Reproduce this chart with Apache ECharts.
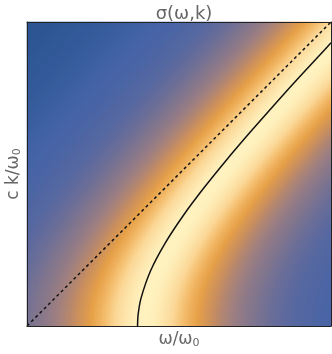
<!DOCTYPE html>
<html>
<head>
<meta charset="utf-8">
<script src="https://cdn.jsdelivr.net/npm/echarts@6/dist/echarts.min.js"></script>
<style>
  html, body { margin: 0; padding: 0; background: #fff; }
  #chart { width: 332px; height: 354px; }
</style>
</head>
<body>
<div id="chart"></div>
<script>
// axis range, in units of omega0 (both axes)
var axisMax = 2.75;
var cells = 152;

// sigma(omega,k): band along omega = sqrt(omega0^2 + c^2 k^2)
var omega0 = 1.0;
var bandShift = 0.06;   // peak sits a bit right of the dispersion curve
var bandWidth = 0.44;

// dispersion curve (k, omega)
var curveK = [0, 0.1, 0.25, 0.5, 0.75, 1.0, 1.25, 1.5, 1.75, 2.0, 2.25, 2.5, 2.562];
var curveW = [1.0, 1.005, 1.031, 1.118, 1.25, 1.414, 1.601, 1.803, 2.016, 2.236, 2.462, 2.693, 2.75];

// light line omega = c k
var lightK = [0, 2.75];
var lightW = [0, 2.75];

// colour gradient stops, low -> high
var stopPos = [0, 0.03, 0.08, 0.14, 0.22, 0.32, 0.44, 0.58, 0.74, 1.0];
var stopCol = ['#2b5590', '#4363a7', '#5a69a0', '#7d7490', '#a08080', '#c88e60', '#e6a048', '#f3bb6a', '#fbd898', '#fff2c0'];

function hexRgb(h) {
    return [parseInt(h.substr(1, 2), 16), parseInt(h.substr(3, 2), 16), parseInt(h.substr(5, 2), 16)];
}
function buildGradient(n) {
    var out = [];
    for (var i = 0; i < n; i++) {
        var t = i / (n - 1);
        var s = 0;
        while (s < stopPos.length - 2 && t > stopPos[s + 1]) s++;
        var f = (t - stopPos[s]) / (stopPos[s + 1] - stopPos[s]);
        var a = hexRgb(stopCol[s]), b = hexRgb(stopCol[s + 1]);
        var c = [0, 1, 2].map(function (q) { return Math.round(a[q] + (b[q] - a[q]) * f); });
        out.push('rgb(' + c.join(',') + ')');
    }
    return out;
}

var xCats = [], yCats = [], cellData = [];
var vMin = Infinity, vMax = -Infinity;
for (var i = 0; i < cells; i++) {
    xCats.push(i);
    yCats.push(i);
}
for (var j = 0; j < cells; j++) {
    var k = (j + 0.5) * axisMax / cells;
    var wk = Math.sqrt(omega0 * omega0 + k * k) + bandShift;
    for (var i = 0; i < cells; i++) {
        var w = (i + 0.5) * axisMax / cells;
        var d = (w - wk) / bandWidth;
        var s = 1 / (1 + d * d);
        if (s < vMin) vMin = s;
        if (s > vMax) vMax = s;
        cellData.push([i, j, s]);
    }
}

function pairs(xs, ys) {
    var out = [];
    for (var i = 0; i < xs.length; i++) out.push([xs[i], ys[i]]);
    return out;
}

var labelColor = '#666';
var fontFam = '"DejaVu Sans", "Noto Sans", sans-serif';
var frameAxis = {
    axisLine: { show: true, onZero: false, lineStyle: { color: '#222', width: 1 } },
    axisTick: { show: false }, axisLabel: { show: false }, splitLine: { show: false }
};
var nameRich = {
    a: { color: labelColor, fontSize: 17, fontFamily: fontFam },
    s: { color: labelColor, fontSize: 11, fontFamily: fontFam, verticalAlign: 'bottom', padding: [8, 0, 0, 0] }
};

var option = {
    animation: false,
    title: {
        text: 'σ(ω,k)',
        left: 179,
        top: 0,
        textAlign: 'center',
        textStyle: { color: labelColor, fontSize: 18, fontWeight: 'normal', fontFamily: fontFam }
    },
    grid: [
        { left: 27, top: 22, right: 1, bottom: 28, outerBoundsMode: 'none', containLabel: false },
        { left: 27, top: 22, right: 1, bottom: 28, outerBoundsMode: 'none', containLabel: false }
    ],
    visualMap: {
        show: false,
        seriesIndex: 0,
        min: vMin,
        max: vMax,
        inRange: { color: buildGradient(101) }
    },
    xAxis: [
        { type: 'category', gridIndex: 0, data: xCats, show: false },
        Object.assign({
            type: 'value', gridIndex: 1, min: 0, max: axisMax, z: 10,
            name: '{a|ω/ω}{s|0}', nameLocation: 'middle', nameGap: 4,
            nameTextStyle: { rich: nameRich }
        }, frameAxis),
        Object.assign({
            type: 'value', gridIndex: 1, position: 'top', min: 0, max: axisMax, z: 10
        }, frameAxis)
    ],
    yAxis: [
        { type: 'category', gridIndex: 0, data: yCats, show: false },
        Object.assign({
            type: 'value', gridIndex: 1, min: 0, max: axisMax, z: 10,
            name: '{a|c k/ω}{s|0}', nameLocation: 'middle', nameGap: 4,
            nameTextStyle: { rich: nameRich }
        }, frameAxis),
        Object.assign({
            type: 'value', gridIndex: 1, position: 'right', min: 0, max: axisMax, z: 10
        }, frameAxis)
    ],
    series: [
        {
            type: 'heatmap',
            xAxisIndex: 0,
            yAxisIndex: 0,
            data: cellData,
            progressive: 0,
            itemStyle: { borderWidth: 0 }
        },
        {
            type: 'line',
            xAxisIndex: 1,
            yAxisIndex: 1,
            data: pairs(lightW, lightK),
            symbol: 'none',
            z: 5,
            lineStyle: { color: '#111', width: 1.5, type: [3, 3] }
        },
        {
            type: 'line',
            xAxisIndex: 1,
            yAxisIndex: 1,
            data: pairs(curveW, curveK),
            symbol: 'none',
            smooth: 0.3,
            z: 5,
            lineStyle: { color: '#111', width: 1.5 }
        }
    ]
};

var myChart = echarts.init(document.getElementById('chart'));
myChart.setOption(option);
</script>
</body>
</html>
